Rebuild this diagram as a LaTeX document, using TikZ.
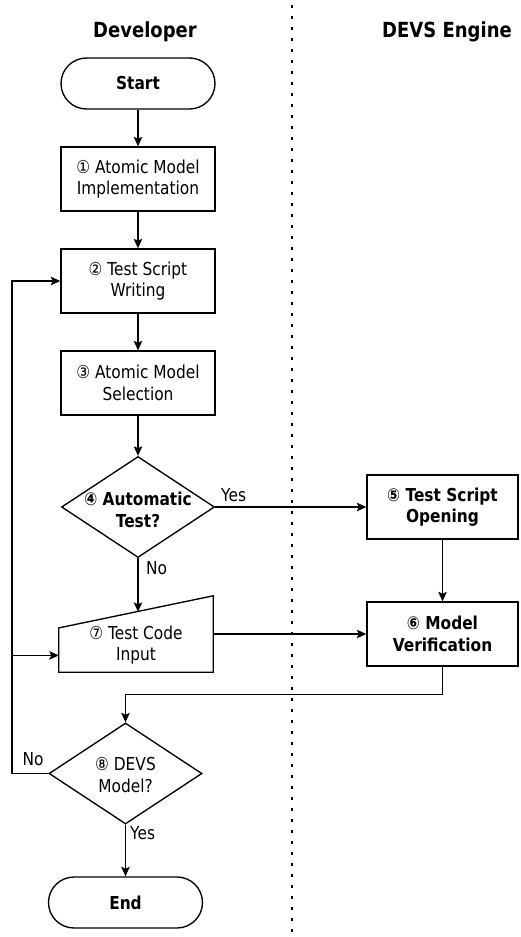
\documentclass[tikz,border=0pt]{standalone}
\usepackage{fontspec}
\setmainfont{DejaVu Sans}[FakeStretch=0.865]
\usetikzlibrary{arrows.meta,shapes.geometric,calc}

\begin{document}
\begin{tikzpicture}[x=1pt,y=-1pt,
  every node/.style={font=\fontsize{17.8}{21.5}\selectfont},
  line/.style={line width=1.35pt},
  arr/.style={line, -{Stealth[length=9.5pt,width=8.5pt,inset=2pt]}},
  box/.style={draw, line width=1.35pt, minimum width=154pt, minimum height=64pt, align=center, inner sep=2pt},
  term/.style={box, minimum height=51pt, rounded corners=25.5pt},
  dec/.style={draw, diamond, line width=1.35pt, minimum width=153pt, minimum height=101pt, inner sep=0pt},
  head/.style={font=\fontsize{20.8}{24}\selectfont\bfseries},
  lbl/.style={font=\fontsize{17.8}{21.5}\selectfont, inner sep=1pt}
]
\useasboundingbox (0,0) rectangle (521,937);

% lane separator
\draw[line width=2.6pt, dash pattern=on 2.6pt off 8.4pt] (292,5) -- (292,937);

% lane headers
\node[head] (hdev) at (145,32) {Developer};
\node[head] (hdevs) at (447,32) {DEVS Engine};

% steps
\node[term] (start) at (138,83.5) {\bfseries Start};
\node[box] (s1) at (138,179) {① Atomic Model\\Implementation};
\node[box] (s2) at (138,281) {② Test Script\\Writing};
\node[box] (s3) at (138,383) {③ Atomic Model\\Selection};
\node[dec] (s4) at (138,507) {};
\node[align=center] (s4t) at (138,510) {\bfseries ④ Automatic\\\bfseries Test?};
\node[box, minimum width=151pt] (s5) at (442.5,507) {\bfseries ⑤ Test Script\\\bfseries Opening};
\node[box, minimum width=151pt] (s6) at (442.5,634) {\bfseries ⑥ Model\\\bfseries Verification};

% manual input step
\node[minimum width=154pt, minimum height=76pt, inner sep=0pt] (s7) at (136,634) {};
\coordinate (s7tl) at ($(s7.south west)!0.58!(s7.north west)$);
\coordinate (s7top) at ($(s7tl)!0.5!(s7.north east)$);
\coordinate (s7in) at ($(s7.south west)!0.22!(s7.north west)$);
\draw[line] (s7.south west) -- (s7.south east) -- (s7.north east) -- (s7tl) -- cycle;
\node[align=center] (s7t) at (136,645) {⑦ Test Code\\Input};

\node[dec] (s8) at (125.5,773.5) {};
\node[align=center] (s8t) at (125.5,775) {⑧ DEVS\\Model?};
\node[term] (end) at (125.5,902.5) {\bfseries End};

% connectors
\draw[arr] (start) -- (s1);
\draw[arr] (s1) -- (s2);
\draw[arr] (s2) -- (s3);
\draw[arr] (s3) -- (s4);
\draw[arr] (s4.east) -- (s5.west);
\node[lbl, anchor=west] (yes1) at (220,495) {Yes};
\draw[arr] (s4.south) -- (s4.south |- s7top);
\node[lbl, anchor=west] (no1) at (145,568) {No};
\draw[arr] (s5) -- (s6);
\draw[arr] (s7.east) -- (s6.west);
\draw[arr] (s6.south) -- ++(0,28) -| (s8.north);
\coordinate (loopc) at (12,281);
\draw[arr] (s8.west) -| (loopc) -- (s2.west);
\draw[arr] (loopc |- s7in) -- (s7in);
\node[lbl] (no2) at (33,759) {No};
\draw[arr] (s8.south) -- (end.north);
\node[lbl, anchor=west] (yes2) at (129,833) {Yes};
\end{tikzpicture}
\end{document}
